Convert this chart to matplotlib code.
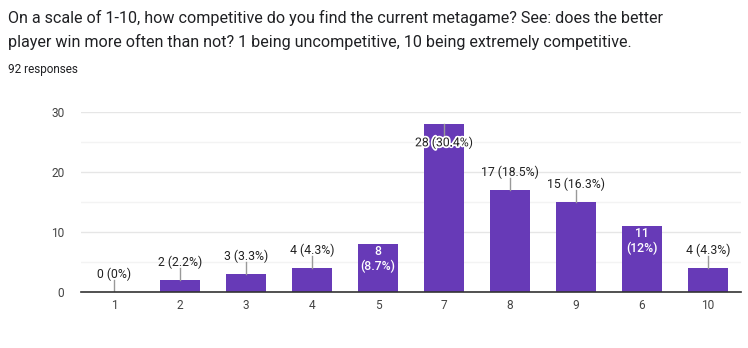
import matplotlib
matplotlib.use("Agg")
import matplotlib.pyplot as plt
import matplotlib.patheffects as pe

plt.rcParams['font.family'] = ['Roboto', 'DejaVu Sans']

title_lines = ["On a scale of 1-10, how competitive do you find the current metagame? See: does the better",
               "player win more often than not? 1 being uncompetitive, 10 being extremely competitive."]
subtitle = "92 responses"
categories = ["1", "2", "3", "4", "5", "7", "8", "9", "6", "10"]
counts = [0, 2, 3, 4, 8, 28, 17, 15, 11, 4]
percents = ["0%", "2.2%", "3.3%", "4.3%", "8.7%", "30.4%", "18.5%", "16.3%", "12%", "4.3%"]
yticks = [0, 10, 20, 30]
# label placement style per bar: 'above', 'inside', 'top'
label_pos = ['above', 'above', 'above', 'above', 'inside', 'top', 'above', 'above', 'inside', 'above']

W, H = 748, 348
fig = plt.figure(figsize=(W / 100, H / 100), dpi=100)
fig.patch.set_facecolor('white')

fig.text(8 / W, 1 - 18 / H, title_lines[0], fontsize=11.6, color='#202124', va='center', ha='left')
fig.text(8 / W, 1 - 42 / H, title_lines[1], fontsize=11.6, color='#202124', va='center', ha='left')
fig.text(8 / W, 1 - 70 / H, subtitle, fontsize=8.5, color='#202124', va='center', ha='left')

left, right = 81 / W, 741 / W
bottom, top = 1 - 292 / H, 1 - 112 / H
ax = fig.add_axes([left, bottom, right - left, top - bottom])
x = list(range(len(categories)))
ax.bar(x, counts, width=0.62, color='#673ab7', zorder=3)
ax.set_xlim(-0.5, len(categories) - 0.5)
ax.set_ylim(0, 30)
ax.set_yticks(yticks)
ax.set_yticks([5, 15, 25], minor=True)
ax.set_xticks(x)
ax.set_xticklabels(categories)
ax.grid(axis='y', which='major', color='#e6e6e6', lw=1, zorder=0)
ax.grid(axis='y', which='minor', color='#f3f3f3', lw=1, zorder=0)
for s in ['top', 'right', 'left']:
    ax.spines[s].set_visible(False)
ax.spines['bottom'].set_color('#333333')
ax.spines['bottom'].set_linewidth(1.2)
ax.spines['bottom'].set_zorder(4)
ax.tick_params(axis='both', which='both', length=0, labelsize=8.6, colors='#444444')
ax.tick_params(axis='y', pad=12)
ax.tick_params(axis='x', pad=5)

fs = 8.8
for i, (c, p, pos) in enumerate(zip(counts, percents, label_pos)):
    if pos == 'top':
        ax.plot([i, i], [c, c - 2.1], color='#999999', lw=1, zorder=4)
        ax.text(i, c - 3.1, f"{c} ({p})", ha='center', va='center', fontsize=fs, color='#222222', zorder=5,
                path_effects=[pe.withStroke(linewidth=2.5, foreground='white')])
    elif pos == 'inside':
        ax.text(i, c - 1.3, f"{c}", ha='center', va='center', fontsize=fs, color='white', zorder=5,
                fontweight='medium')
        ax.text(i, c - 3.7, f"({p})", ha='center', va='center', fontsize=fs, color='white', zorder=5,
                fontweight='medium')
    else:
        ax.plot([i, i], [c, c + 2.0], color='#999999', lw=1, zorder=4)
        ax.text(i, c + 2.9, f"{c} ({p})", ha='center', va='center', fontsize=fs, color='#222222', zorder=5)

fig.savefig("out.png", dpi=100)
